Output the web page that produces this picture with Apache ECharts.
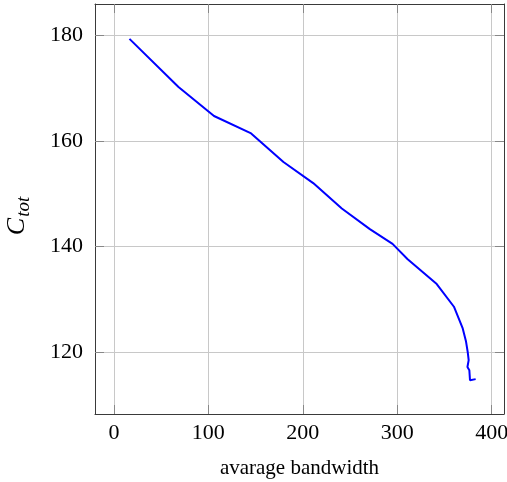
<!DOCTYPE html>
<html>
<head>
<meta charset="utf-8">
<script src="https://cdn.jsdelivr.net/npm/echarts@6/dist/echarts.min.js"></script>
<style>
  html, body { margin: 0; padding: 0; background: #fff; }
  #chart { width: 507px; height: 482px; }
</style>
</head>
<body>
<div id="chart"></div>
<script>
// Average bandwidth vs. total cost
const bandwidth = [16.5, 68.4, 106, 145.3, 179.5, 211, 241.3, 271, 295, 311, 341.8, 360, 369.3, 372.8, 374.6, 375.6, 374.3, 376.3, 377, 383];
const costTot   = [179.3, 170.2, 164.7, 161.4, 156.0, 152.0, 147.2, 143.3, 140.5, 137.6, 132.9, 128.6, 124.5, 122.0, 120.0, 118.5, 117.2, 116.6, 114.7, 114.9];
const xTicks = [0, 100, 200, 300, 400];
const yTicks = [120, 140, 160, 180];

const serif = '"Liberation Serif", "DejaVu Serif", serif';
const frameColor = '#3a3a3a';
const gridColor = '#c8c8c8';

const points = bandwidth.map((b, i) => [b, costTot[i]]);

function xAxisDef(pos, main) {
  return {
    type: 'value', position: pos, min: -20, max: 413, splitNumber: 5,
    axisLine: { show: true, onZero: false, lineStyle: { color: frameColor, width: 1 } },
    axisTick: { show: true, inside: true, length: 9, customValues: xTicks, lineStyle: { color: '#888', width: 1 } },
    axisLabel: { show: main, customValues: xTicks, margin: 8, fontFamily: serif, fontSize: 22, color: '#000' },
    splitLine: { show: main, lineStyle: { color: gridColor, width: 1 } },
    name: main ? 'avarage bandwidth' : '',
    nameLocation: 'middle', nameGap: 44,
    nameTextStyle: { fontFamily: serif, fontSize: 21, color: '#000' }
  };
}
function yAxisDef(pos, main) {
  return {
    type: 'value', position: pos, min: 108.3, max: 185.9, splitNumber: 4,
    axisLine: { show: true, onZero: false, lineStyle: { color: frameColor, width: 1 } },
    axisTick: { show: true, inside: true, length: 9, customValues: yTicks, lineStyle: { color: '#888', width: 1 } },
    axisLabel: { show: main, customValues: yTicks, margin: 12, fontFamily: serif, fontSize: 22, color: '#000' },
    splitLine: { show: main, lineStyle: { color: gridColor, width: 1 } },
    name: main ? '{c|C}{s|tot}' : '',
    nameLocation: 'middle', nameGap: 62, nameRotate: 90,
    nameTextStyle: {
      padding: [0, 14, 0, 0],
      rich: {
        c: { fontFamily: serif, fontStyle: 'italic', fontSize: 26, color: '#000' },
        s: { fontFamily: serif, fontStyle: 'italic', fontSize: 19, color: '#000', verticalAlign: 'bottom', padding: [12, 0, 0, 1] }
      }
    }
  };
}

const chart = echarts.init(document.getElementById('chart'), null, { renderer: 'canvas' });
chart.setOption({
  animation: false,
  backgroundColor: '#fff',
  grid: { left: 95, right: 3, top: 4, bottom: 68, containLabel: false, outerBoundsMode: 'none' },
  xAxis: [xAxisDef('bottom', true), xAxisDef('top', false)],
  yAxis: [yAxisDef('left', true), yAxisDef('right', false)],
  series: [{
    type: 'line',
    data: points,
    showSymbol: false,
    smooth: false,
    lineStyle: { color: '#0000ff', width: 2 },
    xAxisIndex: 0, yAxisIndex: 0
  }]
});
</script>
</body>
</html>
